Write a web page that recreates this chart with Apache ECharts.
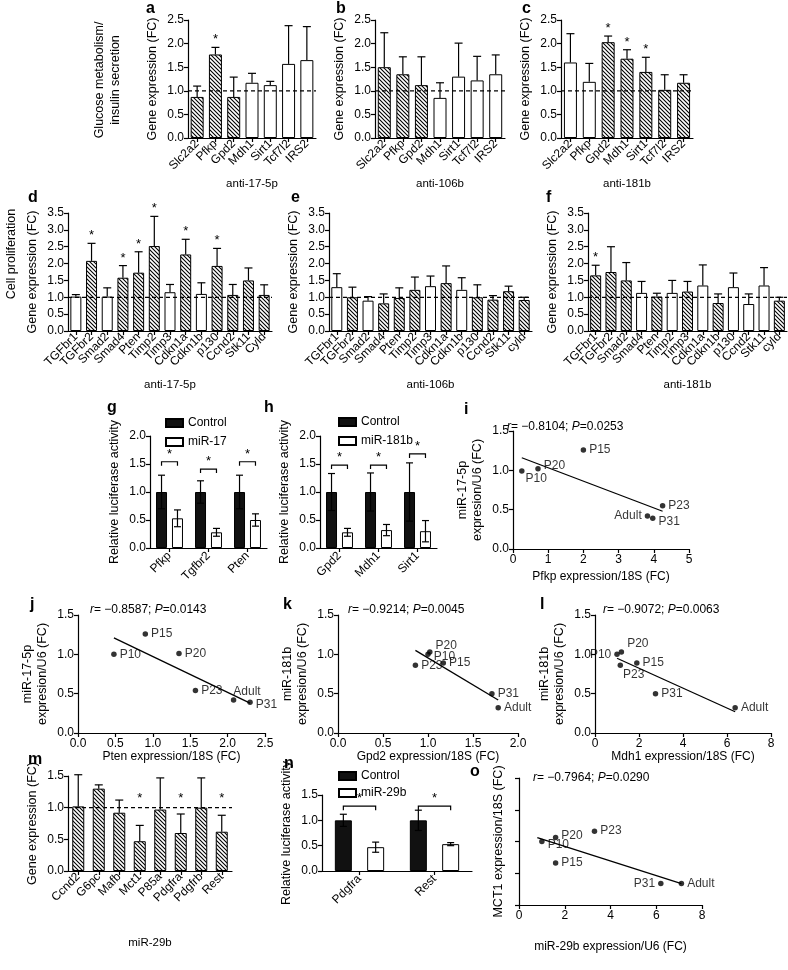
<!DOCTYPE html>
<html><head><meta charset="utf-8">
<script src="https://cdn.jsdelivr.net/npm/echarts@6/dist/echarts.min.js"></script>
<style>html,body{margin:0;padding:0;background:#fff}#c{width:788px;height:970px}</style>
</head><body><div id="c"></div><script>
// ---------------- DATA ----------------
const glucoseGenes = ['Slc2a2','Pfkp','Gpd2','Mdh1','Sirt1','Tcf7l2','IRS2'];
const aVal = [0.87,1.77,0.87,1.17,1.12,1.57,1.65];
const aTop = [1.10,1.92,1.29,1.37,1.20,2.38,2.36];
const aTarget = [1,1,1,0,0,0,0];
const aSig = [0,1,0,0,0,0,0];
const bVal = [1.50,1.35,1.12,0.85,1.30,1.22,1.35];
const bTop = [2.23,1.72,1.72,1.17,2.01,1.73,1.76];
const bTarget = [1,1,1,0,0,0,0];
const bSig = [0,0,0,0,0,0,0];
const cVal = [1.60,1.19,2.03,1.68,1.40,1.02,1.17];
const cTop = [2.21,1.58,2.16,1.87,1.71,1.34,1.34];
const cTarget = [0,0,1,1,1,1,1];
const cSig = [0,0,1,1,1,0,0];

const prolifGenesD = ['TGFbr1','TGFbr2','Smad2','Smad4','Pten','Timp2','Timp3','Cdkn1a','Cdkn1b','p130','Ccnd2','Stk11','Cyld'];
const prolifGenesEF = ['TGFbr1','TGFbr2','Smad2','Smad4','Pten','Timp2','Timp3','Cdkn1a','Cdkn1b','p130','Ccnd2','Stk11','cyld'];
const dVal = [1.02,2.08,1.02,1.58,1.73,2.52,1.15,2.27,1.10,1.93,1.07,1.50,1.07];
const dTop = [1.08,2.60,1.28,1.94,2.35,3.40,1.38,2.72,1.43,2.45,1.38,1.87,1.37];
const dTarget = [0,1,0,1,1,1,0,1,0,1,1,1,1];
const dSig = [0,1,0,1,1,1,0,1,0,1,0,0,0];
const eVal = [1.30,1.00,0.90,0.82,0.98,1.22,1.33,1.42,1.22,1.00,0.93,1.18,0.92];
const eTop = [1.70,1.30,1.02,1.10,1.28,1.60,1.63,1.93,1.58,1.37,1.05,1.33,1.00];
const eTarget = [0,1,0,1,1,1,0,1,0,1,1,1,1];
const eSig = [0,0,0,0,0,0,0,0,0,0,0,0,0];
const fVal = [1.65,1.75,1.50,1.13,1.02,1.13,1.17,1.35,0.83,1.30,0.80,1.35,0.90];
const fTop = [1.95,2.50,2.03,1.47,1.12,1.50,1.47,1.96,1.10,1.72,1.10,1.88,1.00];
const fTarget = [1,1,1,0,1,0,1,0,1,0,0,0,1];
const fSig = [1,0,0,0,0,0,0,0,0,0,0,0,0];

const gCats = ['Pfkp','Tgfbr2','Pten'];
const gCtrl = [1.0,1.0,1.0];
const gCtrlErr = [0.30,0.20,0.30];
const gMir = [0.53,0.28,0.50];
const gMirErr = [0.15,0.07,0.11];
const gBracket = [1.54,1.41,1.54];
const hCats = ['Gpd2','Mdh1','Sirt1'];
const hCtrl = [1.0,1.0,1.0];
const hCtrlErr = [0.33,0.34,0.52];
const hMir = [0.28,0.32,0.30];
const hMirErr = [0.07,0.10,0.19];
const hBracket = [1.48,1.48,1.68];

const iNames = ['P10','P15','P20','P23','P31','Adult'];
const iX = [0.25,2.00,0.71,4.25,3.97,3.82];
const iY = [0.99,1.26,1.02,0.55,0.39,0.42];
const iFit = [[0.25,1.16],[4.25,0.48]];
const jNames = ['P10','P15','P20','P23','P31','Adult'];
const jX = [0.48,0.90,1.35,1.57,2.30,2.08];
const jY = [1.00,1.26,1.01,0.54,0.39,0.42];
const jFit = [[0.48,1.21],[2.30,0.38]];
const kNames = ['P10','P15','P20','P23','P31','Adult'];
const kX = [1.00,1.17,1.02,0.86,1.71,1.78];
const kY = [1.00,0.89,1.03,0.86,0.50,0.32];
const kFit = [[0.86,1.05],[1.78,0.42]];
const lNames = ['P10','P15','P20','P23','P31','Adult'];
const lX = [1.00,1.90,1.20,1.15,2.75,6.37];
const lY = [1.00,0.89,1.03,0.86,0.50,0.32];
const lFit = [[1.00,0.95],[6.37,0.27]];

const mCats = ['Ccnd2','G6pc','Mafb','Mct1','P85a','Pdgfra','Pdgfrb','Rest'];
const mVal = [1.02,1.30,0.92,0.47,0.97,0.60,1.00,0.62];
const mTop = [1.52,1.36,1.12,0.72,1.47,0.90,1.47,0.88];
const mTarget = [1,1,1,1,1,1,1,1];
const mSig = [0,0,0,1.05,0,1.05,0,1.05];
const nCats = ['Pdgfra','Rest'];
const nCtrl = [1.0,1.0];
const nCtrlErr = [0.12,0.20];
const nMir = [0.47,0.53];
const nMirErr = [0.10,0.03];
const nBracket = [1.28,1.28];
const oNames = ['P10','P15','P20','P23','P31','Adult'];
const oX = [1.00,1.60,1.60,3.30,6.20,7.10];
const oY = [1.00,0.73,1.05,1.13,0.47,0.47];
const oFit = [[0.80,1.05],[7.10,0.47]];

// ---------------- BUILD ----------------
const FONT = '"Liberation Sans", Arial, sans-serif';
function makeHatch(){
  const s=4, c=document.createElement('canvas'); c.width=c.height=s;
  const x=c.getContext('2d'); x.fillStyle='#fff'; x.fillRect(0,0,s,s);
  x.strokeStyle='#000'; x.lineWidth=1.1; x.beginPath();
  x.moveTo(0,0); x.lineTo(s,s); x.moveTo(-1,s-1); x.lineTo(1,s+1); x.moveTo(s-1,-1); x.lineTo(s+1,1);
  x.stroke(); return c;
}
const HATCH = {image: makeHatch(), repeat:'repeat'};
const grids=[], xAxes=[], yAxes=[], series=[], graphics=[], legends=[];
const axLine = {show:true, lineStyle:{color:'#000', width:1.2}};
const axTick = {show:true, length:4, inside:false, lineStyle:{color:'#000', width:1.2}};
const txt = {color:'#000', fontFamily:FONT};

function baseAxes(g, xa, ya){
  grids.push(g); const gi = grids.length-1;
  xa.gridIndex=gi; ya.gridIndex=gi;
  xAxes.push(xa); yAxes.push(ya);
  return [xAxes.length-1, yAxes.length-1];
}
function yValAxis(min, max, int, name, gap, fs){
  return {type:'value', min:min, max:max, interval:int, axisLine:axLine, axisTick:axTick, splitLine:{show:false},
    axisLabel:Object.assign({fontSize:fs||12, margin:4, formatter:v=>v.toFixed(1)}, txt),
    name:name, nameLocation:'middle', nameGap:gap, nameRotate:90, nameTextStyle:Object.assign({fontSize:12.5, lineHeight:15}, txt)};
}
function errRender(params, api){
  const i=api.value(0), v=api.value(1), t=api.value(2), sig=api.value(3);
  const p0=api.coord([i,v]), p1=api.coord([i,t]); const cap=4;
  const ch=[
    {type:'line', shape:{x1:p0[0],y1:p0[1],x2:p1[0],y2:p1[1]}, style:{stroke:'#000', lineWidth:1.2}},
    {type:'line', shape:{x1:p1[0]-cap,y1:p1[1],x2:p1[0]+cap,y2:p1[1]}, style:{stroke:'#000', lineWidth:1.2}}
  ];
  if(sig){
    const sy = sig===1 ? p1[1]-1 : api.coord([i,sig])[1];
    ch.push({type:'text', x:p1[0], y:sy, style:{text:'*', fill:'#000', font:'13px '+FONT, align:'center', verticalAlign:'bottom'}});
  }
  if(params.dataIndex===0){
    const cs=params.coordSys; const py=api.coord([0,1])[1];
    ch.push({type:'line', shape:{x1:cs.x, y1:py, x2:cs.x+cs.width, y2:py}, style:{stroke:'#000', lineWidth:1.2, lineDash:[4,3]}});
  }
  return {type:'group', children:ch};
}
function barPanel(o){
  const [xi,yi] = baseAxes(o.grid,
    {type:'category', data:o.cats, axisLine:axLine, axisTick:Object.assign({alignWithLabel:true},axTick),
     axisLabel:Object.assign({rotate:45, interval:0, fontSize:o.lf||12, margin:4}, txt),
     name:o.xName, nameLocation:'middle', nameGap:o.xGap, nameTextStyle:Object.assign({fontSize:11.5}, txt)},
    yValAxis(0, o.yMax, o.yInt, o.yName, o.yGap));
  series.push({type:'bar', xAxisIndex:xi, yAxisIndex:yi, barWidth:o.bw, silent:true, z:2,
    itemStyle:{borderColor:'#000', borderWidth:1},
    data:o.vals.map((v,i)=>({value:v, itemStyle:{color:o.target[i]?HATCH:'#fff'}}))});
  series.push({type:'custom', xAxisIndex:xi, yAxisIndex:yi, silent:true, z:3, renderItem:errRender,
    data:o.vals.map((v,i)=>[i,v,o.top[i],o.sig[i]])});
}
function groupPanel(o){
  const [xi,yi] = baseAxes(o.grid,
    {type:'category', data:o.cats, axisLine:axLine, axisTick:Object.assign({alignWithLabel:true},axTick),
     axisLabel:Object.assign({rotate:45, interval:0, fontSize:12, margin:6}, txt)},
    yValAxis(0, o.yMax, o.yInt, 'Relative luciferase activity', o.yGap));
  const off = (o.bw + o.bw*o.gap)/2;
  series.push({type:'bar', name:'Control', xAxisIndex:xi, yAxisIndex:yi, barWidth:o.bw, barGap:(o.gap*100)+'%', silent:true,
    itemStyle:{color:'#111', borderColor:'#000', borderWidth:1}, data:o.ctrl});
  series.push({type:'bar', name:o.trtName, xAxisIndex:xi, yAxisIndex:yi, barWidth:o.bw, silent:true,
    itemStyle:{color:'#fff', borderColor:'#000', borderWidth:1}, data:o.trt});
  const mk = (vals, errs, dx) => ({type:'custom', xAxisIndex:xi, yAxisIndex:yi, silent:true, z:3,
    data:vals.map((v,i)=>[i,v,errs[i]]),
    renderItem:(p,api)=>{
      const i=api.value(0), v=api.value(1), e=api.value(2);
      const a=api.coord([i,v+e]), b=api.coord([i,v-e]); const x=a[0]+dx, cap=3.5;
      return {type:'group', children:[
        {type:'line', shape:{x1:x,y1:a[1],x2:x,y2:b[1]}, style:{stroke:'#000',lineWidth:1.2}},
        {type:'line', shape:{x1:x-cap,y1:a[1],x2:x+cap,y2:a[1]}, style:{stroke:'#000',lineWidth:1.2}},
        {type:'line', shape:{x1:x-cap,y1:b[1],x2:x+cap,y2:b[1]}, style:{stroke:'#000',lineWidth:1.2}}]};
    }});
  series.push(mk(o.ctrl, o.ctrlErr, -off));
  series.push(mk(o.trt, o.trtErr, off));
  series.push({type:'custom', xAxisIndex:xi, yAxisIndex:yi, silent:true, z:3,
    data:o.bracket.map((b,i)=>[i,b]),
    renderItem:(p,api)=>{
      const c=api.coord([api.value(0), api.value(1)]); const l=c[0]-off, r=c[0]+off, y=c[1];
      return {type:'group', children:[
        {type:'polyline', shape:{points:[[l,y+4],[l,y],[r,y],[r,y+4]]}, style:{stroke:'#000', fill:null, lineWidth:1.2}},
        {type:'text', x:c[0], y:y-1, style:{text:'*', fill:'#000', font:'13px '+FONT, align:'center', verticalAlign:'bottom'}}]};
    }});
  legends.push({data:[{name:'Control', icon:'rect'}, {name:o.trtName, icon:'rect'}], orient:'vertical', left:o.legLeft, top:o.legTop,
    itemWidth:17, itemHeight:8, itemGap:o.legGap||7, selectedMode:false, textStyle:Object.assign({fontSize:12}, txt)});
}
function scatterPanel(o){
  const [xi,yi] = baseAxes(o.grid,
    {type:'value', min:o.xMin, max:o.xMax, interval:o.xInt, axisLine:axLine, axisTick:axTick, splitLine:{show:false},
     axisLabel:Object.assign({fontSize:12, margin:5, formatter:v=>v.toFixed(o.xDec)}, txt),
     name:o.xName, nameLocation:'middle', nameGap:o.xGap, nameTextStyle:Object.assign({fontSize:12}, txt)},
    Object.assign(yValAxis(o.yMin||0, o.yMax||1.5, o.yInt||0.5, o.yName, o.yGap, 12), o.yExtra||{}));
  series.push({type:'line', xAxisIndex:xi, yAxisIndex:yi, silent:true, symbol:'none', data:o.fit,
    lineStyle:{color:'#000', width:1.3}});
  series.push({type:'scatter', xAxisIndex:xi, yAxisIndex:yi, silent:true, symbolSize:5.5, itemStyle:{color:'#000'}, z:3,
    data:o.names.map((n,i)=>({value:[o.xs[i],o.ys[i]], name:n,
      label:{show:true, formatter:n, position:o.lp[i]||'right', offset:(o.lo&&o.lo[i])||[0,0], distance:3, fontSize:12, color:'#000', fontFamily:FONT}}))});
  graphics.push({type:'text', left:o.grid.left+o.ann[0], top:o.grid.top+o.ann[1],
    style:{text:'{i|r}= \u22120.'+o.r+'; {i|P}='+o.p, font:'12px '+FONT, fill:'#000',
      rich:{i:{fontStyle:'italic', fontSize:12, fontFamily:FONT}}}});
}

const yGE = 'Gene expression (FC)';
barPanel({grid:{left:188,top:20,width:128,height:118}, cats:glucoseGenes, vals:aVal, top:aTop, target:aTarget, sig:aSig, yMax:2.5, yInt:0.5, yName:yGE, yGap:28, xName:'anti-17-5p', xGap:40, bw:13});
barPanel({grid:{left:375,top:20,width:130,height:118}, cats:glucoseGenes, vals:bVal, top:bTop, target:bTarget, sig:bSig, yMax:2.5, yInt:0.5, yName:yGE, yGap:28, xName:'anti-106b', xGap:40, bw:13});
barPanel({grid:{left:561,top:20,width:132,height:118}, cats:glucoseGenes, vals:cVal, top:cTop, target:cTarget, sig:cSig, yMax:2.5, yInt:0.5, yName:yGE, yGap:28, xName:'anti-181b', xGap:40, bw:13});
barPanel({grid:{left:68,top:213,width:204,height:118}, cats:prolifGenesD, vals:dVal, top:dTop, target:dTarget, sig:dSig, yMax:3.5, yInt:0.5, yName:yGE, yGap:28, xName:'anti-17-5p', xGap:48, bw:11});
barPanel({grid:{left:329,top:213,width:203,height:118}, cats:prolifGenesEF, vals:eVal, top:eTop, target:eTarget, sig:eSig, yMax:3.5, yInt:0.5, yName:yGE, yGap:28, xName:'anti-106b', xGap:48, bw:11});
barPanel({grid:{left:588,top:213,width:199,height:118}, cats:prolifGenesEF, vals:fVal, top:fTop, target:fTarget, sig:fSig, yMax:3.5, yInt:0.5, yName:yGE, yGap:28, xName:'anti-181b', xGap:48, bw:11});
groupPanel({grid:{left:150,top:436,width:117,height:112}, cats:gCats, ctrl:gCtrl, ctrlErr:gCtrlErr, trt:gMir, trtErr:gMirErr, trtName:'miR-17', bracket:gBracket, yMax:2.0, yInt:0.5, yGap:28, bw:11, gap:0.45, legLeft:160, legTop:412});
groupPanel({grid:{left:320,top:436,width:117,height:112}, cats:hCats, ctrl:hCtrl, ctrlErr:hCtrlErr, trt:hMir, trtErr:hMirErr, trtName:'miR-181b', bracket:hBracket, yMax:2.0, yInt:0.5, yGap:28, bw:11, gap:0.45, legLeft:333, legTop:411});
scatterPanel({grid:{left:513,top:431,width:176,height:118}, xMin:0, xMax:5, xInt:1, xDec:0, names:iNames, xs:iX, ys:iY, fit:iFit,
  lp:['right','right','right','right','right','left'], lo:[[-2,8],[0,0],[0,-3],[0,0],[0,3],[0,0]],
  xName:'Pfkp expression/18S (FC)', xGap:22, yName:'miR-17-5p\nexpresion/U6 (FC)', yGap:28, r:'8104', p:'0.0253', ann:[-6,-10]});
scatterPanel({grid:{left:78,top:615,width:187,height:118}, xMin:0, xMax:2.5, xInt:0.5, xDec:1, names:jNames, xs:jX, ys:jY, fit:jFit,
  lp:['right','right','right','right','right','right'], lo:[[0,0],[0,0],[0,0],[0,0],[0,2],[-6,-8]],
  xName:'Pten expression/18S (FC)', xGap:17, yName:'miR-17-5p\nexpresion/U6 (FC)', yGap:28, r:'8587', p:'0.0143', ann:[12,-11]});
scatterPanel({grid:{left:338,top:615,width:180,height:118}, xMin:0, xMax:2.0, xInt:0.5, xDec:1, names:kNames, xs:kX, ys:kY, fit:kFit,
  lp:['right','right','right','right','right','right'], lo:[[0,2],[0,0],[0,-6],[0,0],[0,0],[0,0]],
  xName:'Gpd2 expression/18S (FC)', xGap:16, yName:'miR-181b\nexpresion/U6 (FC)', yGap:28, r:'9214', p:'0.0045', ann:[10,-11]});
scatterPanel({grid:{left:595,top:615,width:176,height:118}, xMin:0, xMax:8, xInt:2, xDec:0, names:lNames, xs:lX, ys:lY, fit:lFit,
  lp:['left','right','right','right','right','right'], lo:[[0,0],[0,0],[0,-8],[-3,9],[0,0],[0,0]],
  xName:'Mdh1 expression/18S (FC)', xGap:17, yName:'miR-181b\nexpresion/U6 (FC)', yGap:28, r:'9072', p:'0.0063', ann:[8,-11]});
barPanel({grid:{left:68,top:776,width:164,height:95}, cats:mCats, vals:mVal, top:mTop, target:mTarget, sig:mSig, yMax:1.5, yInt:0.5, yName:yGE, yGap:28, xName:'miR-29b', xGap:66, bw:12});
groupPanel({grid:{left:322,top:795,width:150,height:76}, cats:nCats, ctrl:nCtrl, ctrlErr:nCtrlErr, trt:nMir, trtErr:nMirErr, trtName:'miR-29b', bracket:nBracket, yMax:1.5, yInt:0.5, yGap:28, bw:17, gap:0.9, legLeft:333, legTop:765, legGap:5});
scatterPanel({grid:{left:519,top:778,width:183,height:127}, xMin:0, xMax:8, xInt:2, xDec:0, yMin:0.2, yMax:1.8, yInt:0.4, names:oNames, xs:oX, ys:oY, fit:oFit,
  lp:['right','right','right','right','left','right'], lo:[[0,3],[0,0],[0,-2],[0,0],[0,0],[0,0]],
  xName:'miR-29b expression/U6 (FC)', xGap:36, yName:'MCT1 expression/18S (FC)', yGap:13, r:'7964', p:'0.0290', ann:[14,-6],
  yExtra:{axisLabel:{show:false}}});

// panel letters and row titles
const letters = [['a',146,1],['b',336,1],['c',522,1],['d',28,190],['e',291,190],['f',546,190],['g',107,400],['h',264,400],['i',464,402],['j',30,597],['k',283,597],['l',540,597],['m',28,752],['n',284,756],['o',470,764]];
letters.forEach(l=>graphics.push({type:'text', left:l[1], top:l[2], style:{text:l[0], font:'bold 16px '+FONT, fill:'#000'}}));
graphics.push({type:'text', x:108, y:80, rotation:Math.PI/2,
  style:{text:'Glucose metabolism/\ninsulin secretion', font:'12.5px '+FONT, fill:'#000', align:'center', verticalAlign:'middle', lineHeight:16}});
graphics.push({type:'text', x:12, y:254, rotation:Math.PI/2,
  style:{text:'Cell proliferation', font:'12.5px '+FONT, fill:'#000', align:'center', verticalAlign:'middle'}});

const chart = echarts.init(document.getElementById('c'), null, {renderer:'canvas'});
chart.setOption({animation:false, backgroundColor:'#fff', grid:grids, xAxis:xAxes, yAxis:yAxes, series:series, legend:legends, graphic:graphics});
</script></body></html>
